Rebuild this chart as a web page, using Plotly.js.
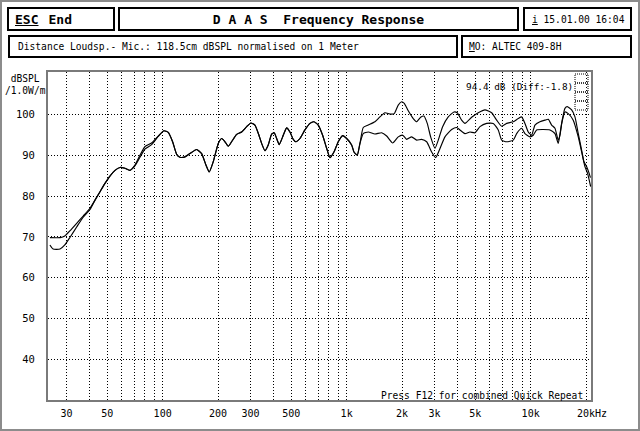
<!DOCTYPE html>
<html><head><meta charset="utf-8">
<script src="https://cdn.plot.ly/plotly-3.0.1.min.js"></script>
<style>
html,body{margin:0;padding:0;background:#fff;}
#wrap{position:relative;width:640px;height:431px;overflow:hidden;background:#fff;font-family:"DejaVu Sans Mono",monospace;color:#000;}
#chart{position:absolute;left:0;top:0;width:640px;height:431px;}
.box{position:absolute;border:2px solid #000;box-sizing:border-box;display:flex;align-items:center;white-space:pre;color:#000;background:#fff;}
#frame{position:absolute;left:0;top:0;width:640px;height:431px;box-sizing:border-box;border:2px solid #8c8c8c;pointer-events:none;}
</style></head>
<body>
<div id="wrap">
  <div id="chart"></div>
  <div class="box" style="left:7px;top:7px;width:108px;height:24px;padding-left:6px;font-weight:bold;font-size:13px;"><u>ESC</u><span style="margin-left:10px">End</span></div>
  <div class="box" style="left:118px;top:7px;width:401px;height:24px;justify-content:center;font-weight:bold;font-size:13px;">D A A S  Frequency Response</div>
  <div class="box" style="left:523px;top:7px;width:109px;height:24px;padding-left:7px;font-size:9.6px;"><u>i</u> 15.01.00 16:04</div>
  <div class="box" style="left:8px;top:35px;width:450px;height:23px;padding-left:8px;font-size:9.6px;">Distance Loudsp.- Mic.: 118.5cm dBSPL normalised on 1 Meter</div>
  <div class="box" style="left:461px;top:35px;width:171px;height:23px;padding-left:6px;font-size:9.6px;"><u>M</u>O: ALTEC 409-8H</div>
  <div id="frame"></div>
</div>
<script>
// ---- data ----
const freqA = [24.4, 27.7, 29.4, 31.4, 34.1, 37.0, 40.3, 42.9, 45.6, 48.6, 51.7, 55.1, 58.6, 62.4, 66.4, 70.7, 75.3, 80.1, 87.1, 94.6, 101.6, 107.3, 113.3, 119.2, 124.2, 132.2, 140.7,
  153.0, 162.9, 171.9, 179.2, 188.4, 200.6, 209.3, 218.2, 227.3, 237.1, 252.5, 268.8, 286.2, 301.9, 317.4, 333.7, 345.1, 359.7, 374.9, 391.2, 404.1, 416.5, 430.2, 448.9, 472.0, 491.8, 512.6, 530.2, 557.5, 593.4, 631.7, 664.2, 701.0, 740.6, 778.6, 811.4, 853.1, 900.2, 951.2, 1000, 1064.7, 1095.8, 1141.9, 1181.2,
  1231, 1310, 1425, 1517, 1615, 1719, 1814, 1907, 1991, 2056, 2162, 2301, 2401, 2524, 2631, 2742, 2861, 3019, 3147, 3324, 3566, 3830, 3992, 4217, 4395, 4778, 5191, 5645, 6138, 6535, 6958, 7407, 8043, 8562, 8935, 9312, 9705, 10125, 10553, 11233, 11958, 12464, 13005, 13557, 14125, 14428, 14850, 15362, 15811, 16705, 17412, 18146, 18937, 19490, 20160, 20823, 21135];
const splA = [69.8, 69.8, 70.2, 71.5, 73.3, 75.1, 77.0, 79.0, 81.0, 83.1, 84.9, 86.3, 87.0, 86.8, 86.3, 87.6, 90.0, 92.1, 93.0, 94.7, 96.0, 95.6, 93.3, 90.2, 89.5, 89.6, 90.4,
  91.4, 90.4, 87.6, 85.9, 88.4, 92.9, 94.1, 93.3, 92.2, 93.3, 95.1, 95.7, 97.0, 97.9, 97.4, 94.9, 92.9, 91.1, 92.5, 95.2, 95.5, 94.1, 92.6, 94.5, 96.7, 95.7, 93.9, 93.3, 94.1, 96.2, 97.8, 98.2, 97.4, 94.9, 91.7, 89.4, 90.8, 93.3, 94.8, 94.1, 92.5, 90.8, 90.0, 92.9,
  96.8, 97.4, 98.2, 99.4, 100.4, 100.1, 100.2, 102.3, 103.1, 102.7, 100.9, 99.0, 98.2, 99.3, 99.6, 97.8, 94.5, 91.7, 93.7, 97.0, 99.4, 100.6, 100.4, 98.6, 97.8, 99.3, 100.4, 101.1, 100.4, 98.6, 97.1, 97.8, 98.2, 99.0, 99.4, 97.8, 95.7, 94.9, 97.4, 98.2, 98.6, 98.8, 97.4, 96.6, 93.7, 94.9, 98.6, 101.5, 101.9, 101.1, 99.4, 95.3, 91.2, 88.4, 87.2, 85.5, 84.5];

const freqB = [24.4, 25.4, 27.7, 29.4, 31.4, 34.1, 37.0, 40.3, 42.9, 45.6, 48.6, 51.7, 55.1, 58.6, 62.4, 66.4, 70.7, 75.3, 80.1, 87.1, 94.6, 101.6, 107.3, 113.3, 119.2, 124.2, 132.2, 140.7,
  153.0, 162.9, 171.9, 179.2, 188.4, 200.6, 209.3, 218.2, 227.3, 237.1, 252.5, 268.8, 286.2, 301.9, 317.4, 333.7, 345.1, 359.7, 374.9, 391.2, 404.1, 416.5, 430.2, 448.9, 472.0, 491.8, 512.6, 530.2, 557.5, 593.4, 631.7, 664.2, 701.0, 740.6, 778.6, 811.4, 853.1, 900.2, 951.2, 1000, 1064.7, 1095.8, 1141.9, 1181.2,
  1231, 1310, 1425, 1549, 1650, 1778, 1907, 2016, 2119, 2256, 2401, 2556, 2722, 2897, 3046, 3187, 3422, 3722, 3962, 4128, 4395, 4678, 4981, 5303, 5767, 6263, 6667, 6958, 7407, 8043, 8393, 8935, 9312, 9913, 10330, 10780, 11710, 12730, 13557, 14125, 14740, 15362, 16004, 17040, 18146, 18937, 19730, 20410, 21190];
const splB = [68.0, 67.0, 67.0, 68.0, 69.9, 72.4, 74.8, 76.7, 79.0, 81.0, 83.1, 84.9, 86.3, 87.0, 86.8, 86.3, 87.4, 89.5, 91.5, 92.6, 94.6, 96.0, 95.6, 93.3, 90.2, 89.5, 89.6, 90.4,
  91.4, 90.4, 87.6, 85.9, 88.4, 92.9, 94.1, 93.3, 92.2, 93.3, 95.1, 95.7, 97.0, 97.9, 97.4, 94.9, 92.9, 91.1, 92.5, 95.2, 95.5, 94.1, 92.6, 94.5, 96.7, 95.7, 93.9, 93.3, 94.1, 96.2, 97.8, 98.2, 97.4, 94.9, 91.7, 89.4, 90.8, 93.3, 94.8, 94.1, 92.5, 90.8, 90.0, 92.9,
  95.3, 95.7, 95.2, 95.5, 94.7, 93.0, 94.5, 94.9, 93.9, 94.5, 93.7, 93.9, 93.3, 90.8, 89.4, 91.2, 94.5, 96.3, 96.8, 96.2, 95.3, 95.7, 95.5, 97.0, 97.8, 97.8, 96.2, 93.7, 93.3, 93.7, 95.3, 96.6, 95.3, 94.5, 94.9, 96.2, 96.3, 96.2, 95.3, 92.9, 97.8, 100.6, 100.2, 98.6, 94.5, 90.8, 87.2, 85.5, 82.3];

const gridFreqs = [30, 40, 50, 60, 70, 80, 90, 100, 200, 300, 400, 500, 600, 700, 800, 900, 1000, 2000, 3000, 4000, 5000, 6000, 7000, 8000, 9000, 10000, 20000];
const freqLabels = ['30', '', '50', '', '', '', '', '100', '200', '300', '', '500', '', '', '', '', '1k', '2k', '3k', '', '5k', '', '', '', '', '10k', '\u00a0\u00a020kHz'];
const dbTicks = [40, 50, 60, 70, 80, 90, 100];
const dbLabels = ['40', '50', '60', '70', '80', '90', '100'];
const levelText = '94.4 dB (Diff:-1.8)';
const footText = 'Press F12 for combined Quick Repeat';

// ---- chart ----
const FONT = '"DejaVu Sans Mono", monospace';
const L = 48, R = 591, T = 72, B = 400;
const px = x => (x - L) / (R - L);
const py = y => (B - y) / (B - T);

const lineStyle = {color: '#000', width: 1.15, shape: 'spline', smoothing: 0.5};
const traces = [
  {x: freqA, y: splA, type: 'scatter', mode: 'lines', line: lineStyle, hoverinfo: 'skip'},
  {x: freqB, y: splB, type: 'scatter', mode: 'lines', line: lineStyle, hoverinfo: 'skip'}
];

const shapes = [];
const boxYs = [74, 83, 92, 101, 110];
for (let i = 0; i < boxYs.length - 1; i++) {
  shapes.push({type: 'rect', xref: 'paper', yref: 'paper', x0: px(575), x1: px(588), y0: py(boxYs[i]), y1: py(boxYs[i + 1]),
    line: {color: '#000', width: 1, dash: '1px,1px'}});
}

const layout = {
  width: 640, height: 431,
  margin: {l: L, r: 640 - R, t: T, b: 431 - B, pad: 0},
  paper_bgcolor: '#fff', plot_bgcolor: '#fff',
  showlegend: false,
  font: {family: FONT, size: 10, color: '#000'},
  xaxis: {
    type: 'log', range: [1.377, 4.328],
    tickmode: 'array', tickvals: gridFreqs, ticktext: freqLabels,
    showgrid: true, gridcolor: '#000', gridwidth: 1, griddash: '1px,2px',
    ticks: 'outside', ticklen: 3, tickcolor: 'rgba(0,0,0,0)',
    tickfont: {family: FONT, size: 10, color: '#000'},
    showline: true, linecolor: '#7a7a7a', linewidth: 2, mirror: true,
    zeroline: false, fixedrange: true
  },
  yaxis: {
    range: [30, 110.4],
    tickmode: 'array', tickvals: dbTicks, ticktext: dbLabels,
    showgrid: true, gridcolor: '#000', gridwidth: 1, griddash: '1px,2px',
    ticks: 'outside', ticklen: 9, tickcolor: 'rgba(0,0,0,0)',
    tickfont: {family: FONT, size: 10.5, color: '#000'},
    showline: true, linecolor: '#7a7a7a', linewidth: 2, mirror: true,
    zeroline: false, fixedrange: true
  },
  shapes: shapes,
  annotations: [
    {xref: 'paper', yref: 'paper', x: px(25), y: py(84), text: 'dBSPL<br>/1.0W/m', showarrow: false,
      xanchor: 'center', yanchor: 'middle', align: 'center', font: {family: FONT, size: 9.6, color: '#000'}},
    {xref: 'paper', yref: 'paper', x: px(464), y: py(86), text: levelText, showarrow: false,
      xanchor: 'left', yanchor: 'middle', font: {family: FONT, size: 9.4, color: '#000'}},
    {xref: 'paper', yref: 'paper', x: px(379), y: py(395), text: footText, showarrow: false,
      xanchor: 'left', yanchor: 'middle', font: {family: FONT, size: 9.6, color: '#000'}}
  ]
};

Plotly.newPlot('chart', traces, layout, {staticPlot: true, displayModeBar: false});
</script>
</body></html>
